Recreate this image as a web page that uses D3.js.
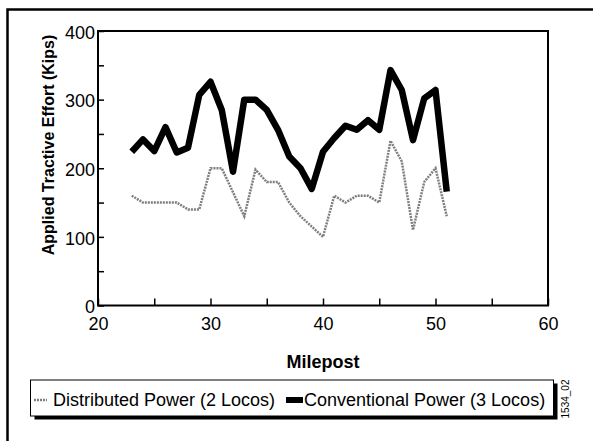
<!DOCTYPE html>
<html>
<head>
<meta charset="utf-8">
<script src="https://cdn.jsdelivr.net/npm/d3@7"></script>
<style>
	body { margin:0; background:#fff; }
	svg { display:block; font-family:'Liberation Sans', Arial, sans-serif; }
</style>
</head>
<body>
<svg id="chart" width="593" height="441"></svg>
<script>
var mileposts    = [23,24,25,26,27,28,29,30,31,32,33,34,35,36,37,38,39,40,41,42,43,44,45,46,47,48,49,50,51]
var distributed  = [160,150,150,150,150,140,140,200,200,165,130,198,180,180,150,130,115,100,160,150,160,160,150,240,210,110,180,200,130]
var conventional = [224,242,225,260,223,230,307,326,285,195,300,300,285,256,217,200,170,224,244,262,256,270,256,343,314,241,302,314,166]
var xTicks = [20,25,30,35,40,45,50,55,60]
var yTicks = [0,50,100,150,200,250,300,350,400]
var seriesNames = ['Distributed Power (2 Locos)','Conventional Power (3 Locos)']

var svg = d3.select('#chart')

// outer frame (runs off the right and bottom edges)
svg.append('path').attr('d','M593,9.5 L7.5,9.5 L7.5,441')
	.attr('fill','none').attr('stroke','#000').attr('stroke-width',2.5)

var x = d3.scaleLinear().domain([20,60]).range([98,548])
var y = d3.scaleLinear().domain([0,400]).range([305.5,31])

var plot = svg.append('g').attr('id','plot')

// ticks inside the frame
var xAxis = plot.append('g').attr('transform','translate(0,' + y(0) + ')')
	.call(d3.axisBottom(x).tickValues(xTicks).tickSizeInner(-7).tickSizeOuter(0)
		.tickFormat(function(d){ return d % 10 == 0 ? d : '' }))
xAxis.select('.domain').remove()
xAxis.selectAll('line').attr('stroke-width',1.5)
xAxis.selectAll('text').attr('y',12).attr('dy','0.71em').style('font-size','18px').style('font-family','inherit').attr('fill','#000')

var yAxis = plot.append('g').attr('transform','translate(' + x(20) + ',0)')
	.call(d3.axisLeft(y).tickValues(yTicks).tickSizeInner(-6).tickSizeOuter(0)
		.tickFormat(function(d){ return d % 100 == 0 ? d : '' }))
yAxis.select('.domain').remove()
yAxis.selectAll('line').attr('stroke-width',1.5)
yAxis.selectAll('text').attr('x',-3).attr('dy','0.4em').style('font-size','18px').style('font-family','inherit').attr('fill','#000')

plot.append('rect').attr('x',x(20)).attr('y',y(400))
	.attr('width',x(60)-x(20)).attr('height',y(0)-y(400))
	.attr('fill','none').attr('stroke','#000').attr('stroke-width',2)

var line = d3.line()
	.x(function(d,i){ return x(mileposts[i]) })
	.y(function(d){ return y(d) })

plot.append('path').datum(distributed).attr('d',line)
	.attr('fill','none').attr('stroke','#7f7f7f').attr('stroke-width',2.5)
	.attr('stroke-dasharray','2,1')
plot.append('path').datum(conventional).attr('d',line)
	.attr('fill','none').attr('stroke','#000').attr('stroke-width',6.5)
	.attr('stroke-linejoin','round')

// axis titles
svg.append('text').text('Milepost')
	.attr('x',(x(20)+x(60))/2).attr('y',368)
	.attr('text-anchor','middle').style('font-size','18px').style('font-weight','bold')
svg.append('text').text('Applied Tractive Effort (Kips)')
	.attr('transform','translate(54,145) rotate(-90)')
	.attr('text-anchor','middle').style('font-size','16px').style('font-weight','bold')

// legend
var legend = svg.append('g').attr('id','legend')
legend.append('rect').attr('x',34.5).attr('y',383.5).attr('width',523).attr('height',36).attr('fill','#000')
legend.append('rect').attr('x',30.5).attr('y',380).attr('width',523).attr('height',36)
	.attr('fill','#fff').attr('stroke','#000').attr('stroke-width',1)
legend.append('line').attr('x1',34).attr('x2',47).attr('y1',400).attr('y2',400)
	.attr('stroke','#7f7f7f').attr('stroke-width',2.5).attr('stroke-dasharray','2,1')
legend.append('text').text(seriesNames[0]).attr('x',53).attr('y',406).style('font-size','18px')
legend.append('rect').attr('x',286).attr('y',397).attr('width',17).attr('height',6).attr('fill','#000')
legend.append('text').text(seriesNames[1]).attr('x',304).attr('y',406).style('font-size','18px')

svg.append('text').text('1534_02')
	.attr('transform','translate(569,399) rotate(-90)')
	.attr('text-anchor','middle').style('font-size','10px')
</script>
</body>
</html>
